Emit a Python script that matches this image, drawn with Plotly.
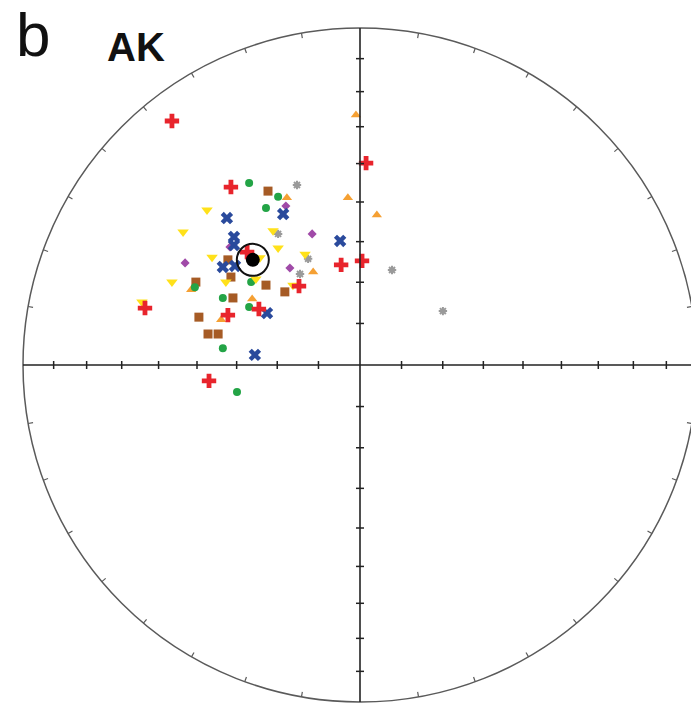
import numpy as np
import plotly.graph_objects as go

# Net coordinates (equal-area projection, unit primitive circle)
red_x = [-0.558, 0.018, -0.383, -0.056, 0.006, -0.638, -0.181, -0.392, -0.300, -0.448, -0.335]
red_y = [0.724, 0.599, 0.528, 0.297, 0.309, 0.169, 0.234, 0.148, 0.166, -0.047, 0.335]

green_x = [-0.329, -0.243, -0.279, -0.323, -0.490, -0.407, -0.329, -0.407, -0.365]
green_y = [0.540, 0.499, 0.466, 0.246, 0.231, 0.199, 0.172, 0.050, -0.080]

brown_x = [-0.273, -0.392, -0.383, -0.487, -0.279, -0.223, -0.377, -0.478, -0.451, -0.421]
brown_y = [0.516, 0.312, 0.261, 0.246, 0.237, 0.217, 0.199, 0.142, 0.092, 0.092]

blue_x = [-0.395, -0.228, -0.374, -0.374, -0.407, -0.371, -0.059, -0.276, -0.312]
blue_y = [0.436, 0.448, 0.380, 0.356, 0.291, 0.294, 0.368, 0.154, 0.030]

yellow_x = [-0.454, -0.525, -0.258, -0.243, -0.439, -0.163, -0.558, -0.398, -0.309, -0.199, -0.647, -0.297]
yellow_y = [0.460, 0.395, 0.398, 0.347, 0.320, 0.329, 0.246, 0.246, 0.255, 0.237, 0.187, 0.318]

orange_x = [-0.012, -0.217, -0.036, 0.050, -0.139, -0.501, -0.320, -0.412]
orange_y = [0.742, 0.496, 0.496, 0.445, 0.276, 0.223, 0.196, 0.134]

gray_x = [-0.187, -0.243, -0.154, -0.178, 0.095, 0.246]
gray_y = [0.534, 0.389, 0.315, 0.270, 0.282, 0.160]

purple_x = [-0.220, -0.142, -0.386, -0.519, -0.208]
purple_y = [0.472, 0.389, 0.350, 0.303, 0.288]

mean_x = [-0.318]
mean_y = [0.312]

fig = go.Figure()

# primitive circle and axes
shapes = []
shapes.append(dict(type="circle", xref="x", yref="y", x0=-1, y0=-1, x1=1, y1=1,
                   line=dict(color="#5a5a5a", width=1.5)))
shapes.append(dict(type="line", x0=-1, y0=0, x1=1, y1=0, line=dict(color="#222222", width=1.6)))
shapes.append(dict(type="line", x0=0, y0=-1, x1=0, y1=1, line=dict(color="#222222", width=1.6)))

px = 1 / 337.0
tick_half = 4 * px
for th in range(10, 90, 10):
    r = np.sqrt(2) * np.sin(np.radians(th) / 2)
    for s in (-1, 1):
        shapes.append(dict(type="line", x0=s * r, x1=s * r, y0=-tick_half, y1=tick_half,
                           line=dict(color="#222222", width=1.5)))
        shapes.append(dict(type="line", y0=s * r, y1=s * r, x0=-tick_half, x1=tick_half,
                           line=dict(color="#222222", width=1.5)))
for az in range(0, 360, 10):
    if az % 90 == 0:
        continue
    a = np.radians(az)
    shapes.append(dict(type="line", x0=np.sin(a), y0=np.cos(a),
                       x1=(1 - 5 * px) * np.sin(a), y1=(1 - 5 * px) * np.cos(a),
                       line=dict(color="#5a5a5a", width=1.2)))

def add(xs, ys, symbol, size, color, lw=0, lc=None):
    fig.add_trace(go.Scatter(x=xs, y=ys, mode="markers", hoverinfo="skip",
                             marker=dict(symbol=symbol, size=size, color=color,
                                         line=dict(width=lw, color=lc or color))))

add(gray_x, gray_y, "asterisk-open", 7, "#9a9a9a", 2, "#9a9a9a")
add(purple_x, purple_y, "diamond", 7, "#a04aa8")
add(orange_x, orange_y, "triangle-up", 9, "#f5a033")
add(brown_x, brown_y, "square", 9, "#a65b25")
add(green_x, green_y, "circle", 8, "#23a446")
add(yellow_x, yellow_y, "triangle-down", 10, "#ffe11a")
add(blue_x, blue_y, "x", 11, "#2a4a9c")
add(red_x, red_y, "cross", 12, "#e8242c")
add(mean_x, mean_y, "circle", 14, "#000000")
add(mean_x, mean_y, "circle-open", 32, "#111111", 2, "#111111")

fig.update_layout(
    width=691, height=707,
    margin=dict(l=0, r=0, t=0, b=0),
    paper_bgcolor="white", plot_bgcolor="white",
    showlegend=False,
    shapes=shapes,
    xaxis=dict(range=[-360 / 337, 331 / 337], visible=False, fixedrange=True),
    yaxis=dict(range=[-342 / 337, 365 / 337], visible=False, fixedrange=True),
    annotations=[
        dict(text="b", xref="paper", yref="paper", x=33 / 691, y=1 - 34 / 707,
             xanchor="center", yanchor="middle", showarrow=False,
             font=dict(family="Liberation Sans, Arial", size=62, color="#111111")),
        dict(text="<b>AK</b>", xref="paper", yref="paper", x=136 / 691, y=1 - 47 / 707,
             xanchor="center", yanchor="middle", showarrow=False,
             font=dict(family="Liberation Sans, Arial", size=40, color="#111111")),
    ],
)

fig.write_html("out.html")
